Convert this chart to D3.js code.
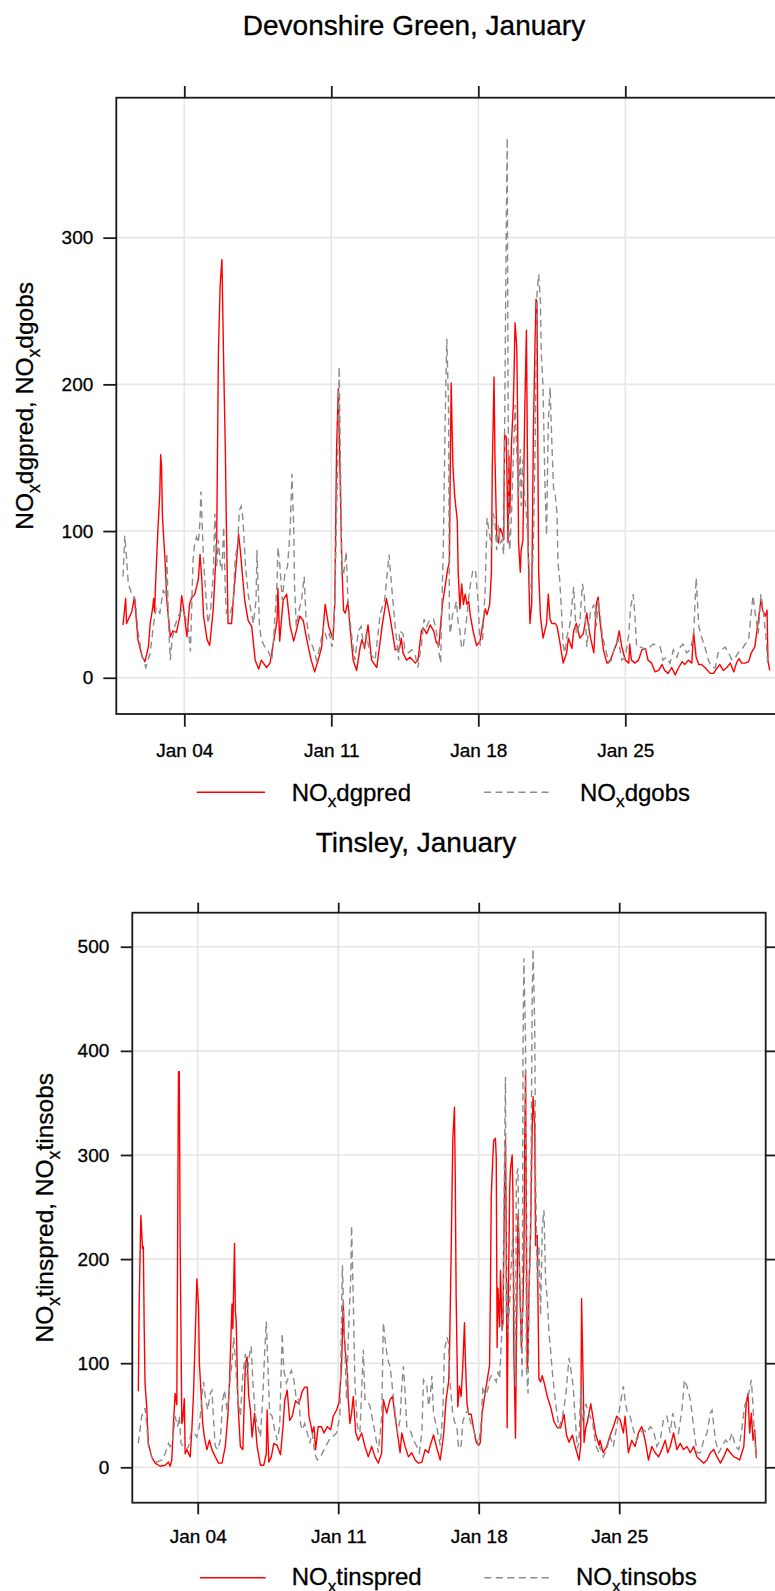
<!DOCTYPE html>
<html>
<head>
<meta charset="utf-8">
<script src="https://cdn.jsdelivr.net/npm/d3@7"></script>
<style>
  body { margin: 0; background: #fff; }
  svg { display: block; }
  text { font-family: "Liberation Sans", Arial, Helvetica, sans-serif; fill: #000; stroke: #000; stroke-width: 0.3px; }
</style>
</head>
<body>
<svg id="chart" width="775" height="1591"></svg>
<script>
// ---------------- DATA ----------------
// Time is given in hours since 1 January 00:00; values are NOx concentrations.
const monthStartUTC = Date.UTC(2003, 0, 1);
const tickDays = [4, 11, 18, 25];          // day of January for the x ticks
const tickLabels = ["Jan 04", "Jan 11", "Jan 18", "Jan 25"];
const dgYTicks = [0, 100, 200, 300];
const tinsYTicks = [0, 100, 200, 300, 400, 500];
const titles = ["Devonshire Green, January", "Tinsley, January"];
const dgNames = ["dgpred", "dgobs"];
const tinsNames = ["tinspred", "tinsobs"];

const dgPred = [[2,36],[5,54],[6,37],[12,45],[15,55],[16,48],[19,26],[24,14],[27,11],[31,21],[33,37],[36,48],[37,54],[38,45],[40,76],[42,103],[44,126],[45,152],[46,144],[47,110],[50,80],[52,53],[56,28],[59,32],[63,31],[67,42],[69,56],[71,48],[75,28],[78,50],[80,54],[84,57],[88,67],[90,84],[92,67],[94,42],[98,26],[101,22],[105,46],[109,92],[111,222],[113,268],[115,285],[117,214],[119,152],[120,107],[122,37],[126,37],[128,53],[132,82],[134,98],[136,87],[138,73],[141,53],[145,39],[149,35],[153,12],[157,6],[160,12],[166,7],[170,10],[178,39],[179,61],[181,25],[185,53],[189,57],[193,35],[197,25],[200,32],[204,42],[208,39],[212,26],[217,12],[221,4],[225,12],[229,21],[233,50],[237,35],[240,30],[242,26],[244,51],[246,155],[248,197],[250,139],[252,78],[254,46],[256,44],[259,52],[261,37],[265,12],[269,5],[273,21],[275,26],[278,20],[282,36],[286,12],[292,7],[298,35],[303,54],[307,42],[313,19],[318,20],[320,27],[322,17],[326,12],[330,14],[336,10],[339,12],[343,32],[345,34],[349,30],[353,36],[357,32],[360,24],[363,22],[365,37],[367,50],[370,62],[373,74],[375,79],[376,146],[377,201],[378,171],[379,144],[381,124],[384,107],[385,72],[387,47],[389,64],[391,50],[393,57],[395,50],[397,52],[399,42],[402,32],[406,22],[410,25],[414,40],[416,47],[418,43],[421,50],[423,72],[424,144],[426,205],[427,151],[429,97],[431,92],[433,102],[435,99],[437,94],[438,166],[440,164],[442,92],[443,151],[444,112],[446,161],[448,186],[449,211],[450,242],[452,225],[453,174],[454,92],[456,72],[457,87],[459,94],[461,179],[463,237],[464,161],[465,87],[467,37],[469,50],[471,169],[473,233],[474,258],[475,256],[477,72],[479,42],[480,37],[482,27],[484,32],[486,37],[488,57],[490,40],[492,37],[496,37],[498,35],[501,25],[505,10],[509,17],[511,27],[515,20],[517,32],[520,37],[524,27],[528,30],[532,44],[534,35],[536,28],[540,17],[543,51],[545,55],[547,39],[551,19],[555,10],[559,12],[562,17],[566,23],[569,32],[572,21],[576,12],[580,10],[581,23],[583,12],[587,10],[591,12],[595,19],[599,20],[602,12],[606,10],[610,4],[614,5],[618,9],[621,5],[625,3],[629,7],[633,2],[637,7],[641,11],[644,9],[648,12],[652,10],[654,31],[657,14],[660,9],[663,9],[667,7],[673,3],[677,3],[680,6],[684,9],[688,5],[692,7],[696,10],[700,4],[703,10],[706,13],[709,10],[713,10],[717,11],[720,17],[724,21],[728,39],[731,53],[733,46],[736,42],[738,46],[739,12],[741,5]];

const dgObs = [[2,69],[4,97],[6,82],[8,64],[12,57],[16,53],[19,32],[23,17],[28,7],[33,17],[37,37],[40,48],[44,44],[48,60],[51,55],[52,85],[54,37],[56,12],[58,26],[61,35],[65,42],[69,46],[73,42],[77,32],[79,18],[82,80],[84,92],[86,96],[88,92],[90,107],[91,127],[94,80],[96,62],[99,37],[102,46],[105,69],[107,112],[109,76],[111,94],[113,78],[115,73],[117,103],[119,57],[120,44],[124,42],[128,53],[130,80],[133,92],[135,114],[137,117],[139,109],[142,76],[145,57],[148,46],[151,37],[154,53],[155,87],[158,35],[160,26],[164,21],[168,18],[172,12],[174,26],[178,64],[179,89],[181,78],[184,53],[187,71],[190,76],[193,101],[195,139],[197,103],[198,62],[200,35],[203,46],[206,53],[209,69],[211,42],[215,26],[219,21],[223,12],[227,21],[231,35],[235,26],[238,30],[241,21],[244,51],[247,140],[249,212],[252,76],[254,70],[257,86],[259,53],[263,30],[267,12],[271,32],[274,35],[277,21],[280,30],[284,17],[290,12],[296,44],[301,53],[306,84],[309,62],[313,35],[317,12],[318,32],[322,30],[324,20],[328,17],[332,19],[336,15],[339,7],[343,22],[346,40],[349,35],[353,40],[357,40],[360,32],[363,17],[365,10],[366,42],[368,87],[370,171],[372,231],[374,186],[375,40],[376,30],[379,45],[381,47],[383,52],[385,37],[387,32],[389,20],[391,22],[395,42],[398,60],[402,74],[405,72],[408,50],[410,22],[413,27],[416,62],[418,109],[421,97],[423,89],[425,112],[427,107],[429,87],[431,104],[433,92],[435,94],[437,84],[438,161],[440,310],[441,368],[442,198],[443,99],[444,87],[446,112],[448,149],[450,186],[452,154],[454,124],[456,156],[457,117],[459,149],[461,122],[463,112],[465,87],[467,62],[469,57],[471,92],[473,161],[475,261],[477,275],[479,256],[480,221],[482,198],[484,136],[486,97],[488,174],[490,198],[492,161],[494,129],[496,124],[498,112],[499,79],[501,67],[503,47],[505,22],[507,17],[509,27],[513,37],[517,62],[518,50],[520,30],[524,37],[527,64],[529,57],[532,21],[536,44],[540,50],[543,35],[545,53],[547,44],[550,28],[553,21],[557,10],[560,12],[564,21],[568,26],[572,12],[576,14],[580,30],[582,48],[585,57],[587,42],[589,21],[593,21],[597,20],[600,19],[604,21],[608,23],[612,22],[616,21],[619,12],[623,14],[627,10],[631,19],[635,14],[639,21],[642,23],[646,17],[650,19],[654,28],[657,68],[660,35],[663,28],[667,21],[671,12],[675,7],[679,7],[682,17],[686,19],[690,21],[694,17],[698,12],[702,14],[705,17],[709,19],[713,23],[717,26],[719,39],[722,56],[724,46],[728,30],[731,57],[734,44],[737,26],[739,7]];

const tinsPred = [[1,73],[2,157],[4,242],[6,210],[7,212],[8,135],[9,81],[11,58],[13,23],[17,10],[21,4],[27,1],[33,2],[37,5],[39,1],[41,7],[43,42],[45,71],[47,60],[48,218],[49,380],[50,380],[51,215],[53,42],[54,45],[56,66],[57,13],[59,17],[63,10],[65,36],[67,71],[69,125],[71,181],[73,154],[74,100],[76,71],[78,42],[80,29],[83,17],[86,26],[89,17],[93,10],[97,4],[101,4],[105,20],[108,49],[110,81],[112,132],[113,157],[114,133],[116,215],[117,150],[118,141],[120,64],[123,20],[126,17],[129,100],[131,106],[133,68],[135,55],[137,29],[140,52],[143,20],[147,2],[151,2],[154,13],[155,55],[157,5],[160,10],[163,23],[167,21],[171,12],[174,39],[176,64],[179,74],[182,45],[185,49],[189,64],[193,61],[197,73],[200,77],[203,77],[205,49],[207,42],[209,33],[211,39],[213,17],[216,39],[220,39],[223,33],[227,39],[231,36],[234,49],[238,55],[241,62],[244,97],[246,158],[247,129],[249,107],[251,91],[252,65],[254,42],[256,52],[258,68],[261,33],[264,26],[268,33],[272,20],[276,10],[280,20],[284,10],[288,4],[292,14],[294,65],[298,52],[302,65],[305,68],[308,49],[312,26],[314,14],[316,33],[320,20],[324,10],[328,14],[332,7],[336,4],[340,5],[344,17],[348,14],[350,21],[354,31],[358,18],[362,7],[366,31],[369,65],[372,82],[373,105],[375,203],[377,314],[379,346],[380,274],[381,166],[383,58],[385,78],[387,68],[389,98],[391,139],[392,105],[394,61],[396,51],[399,51],[401,41],[405,24],[408,21],[410,24],[412,51],[415,68],[417,78],[419,88],[421,98],[422,169],[423,260],[425,300],[426,314],[428,316],[429,297],[430,115],[431,172],[433,135],[434,189],[436,132],[437,139],[439,274],[440,314],[441,223],[442,38],[443,129],[445,267],[446,287],[448,300],[449,260],[450,112],[452,28],[453,112],[455,243],[456,220],[457,179],[459,115],[461,159],[462,196],[463,307],[464,381],[465,240],[466,95],[467,105],[468,166],[470,226],[472,327],[473,356],[475,327],[476,213],[478,223],[480,85],[482,82],[484,88],[486,82],[490,68],[494,58],[498,44],[502,38],[506,38],[510,51],[513,31],[516,24],[520,31],[524,18],[528,7],[530,21],[531,162],[533,78],[534,24],[536,38],[538,44],[542,61],[544,51],[548,31],[552,21],[553,26],[557,14],[561,20],[565,30],[569,39],[573,49],[577,46],[581,33],[583,49],[587,14],[591,26],[595,20],[599,33],[603,39],[607,26],[611,7],[615,20],[619,14],[623,10],[627,17],[631,26],[634,14],[637,20],[641,33],[645,17],[649,23],[653,17],[657,20],[661,14],[665,20],[669,10],[673,7],[677,4],[681,7],[685,14],[689,17],[693,10],[697,4],[701,10],[705,18],[709,14],[713,10],[716,9],[720,7],[725,20],[728,62],[730,71],[732,33],[734,52],[736,26],[738,36],[740,9]];

const tinsObs = [[1,23],[3,36],[5,49],[9,57],[11,42],[13,20],[17,10],[23,5],[29,7],[33,13],[37,23],[39,20],[42,26],[45,49],[48,39],[50,49],[52,23],[55,20],[58,17],[61,20],[64,33],[67,34],[71,29],[74,39],[77,68],[79,82],[81,68],[84,55],[87,71],[89,74],[91,45],[93,20],[96,17],[99,26],[102,65],[104,74],[107,55],[109,65],[111,87],[113,100],[115,125],[117,103],[120,65],[123,49],[126,90],[129,109],[131,87],[134,109],[136,116],[138,81],[141,49],[144,39],[147,29],[150,71],[152,109],[154,140],[156,97],[158,52],[161,49],[164,36],[167,26],[170,39],[173,129],[175,93],[178,81],[181,87],[184,93],[187,84],[190,65],[193,65],[195,42],[197,36],[200,42],[203,33],[206,23],[209,33],[212,13],[215,7],[219,10],[223,17],[227,23],[231,29],[234,30],[238,33],[242,49],[245,194],[247,136],[250,65],[252,123],[255,184],[256,232],[258,161],[260,81],[263,39],[266,33],[270,113],[272,65],[274,65],[278,59],[281,46],[284,33],[288,14],[292,49],[294,139],[296,123],[299,104],[302,97],[306,68],[310,39],[311,33],[314,46],[316,78],[318,97],[320,71],[322,39],[326,36],[330,26],[334,20],[337,14],[340,33],[342,84],[346,78],[348,59],[350,68],[352,88],[354,51],[358,38],[362,21],[365,51],[367,112],[370,125],[372,119],[373,88],[377,51],[379,44],[382,38],[384,18],[387,21],[389,44],[392,51],[395,55],[398,44],[401,38],[405,28],[408,21],[411,44],[413,78],[416,68],[419,75],[421,85],[423,88],[425,88],[427,85],[429,82],[431,92],[433,85],[435,119],[437,152],[439,307],[440,375],[441,146],[442,179],[443,129],[445,159],[447,196],[449,226],[450,179],[452,78],[453,280],[455,287],[456,213],[458,152],[460,85],[461,402],[462,489],[464,409],[465,95],[467,71],[468,162],[470,220],[472,455],[473,498],[475,423],[476,280],[478,179],[480,213],[482,146],[484,230],[486,247],[488,179],[490,162],[492,129],[494,112],[496,92],[500,61],[504,38],[508,48],[512,68],[516,105],[518,95],[521,78],[523,51],[526,18],[528,24],[530,78],[532,44],[534,51],[536,61],[540,51],[544,44],[548,21],[552,14],[553,20],[557,10],[561,17],[565,30],[569,20],[573,39],[577,59],[581,78],[583,65],[585,55],[589,49],[593,36],[597,26],[601,33],[605,36],[609,33],[613,39],[617,36],[621,20],[625,26],[629,46],[633,49],[637,33],[640,52],[643,39],[647,33],[651,55],[654,84],[657,78],[661,65],[665,39],[669,14],[673,14],[677,26],[681,33],[685,52],[687,55],[691,26],[695,14],[699,20],[703,26],[707,23],[711,33],[715,20],[719,17],[723,39],[726,59],[731,71],[734,84],[736,59],[738,26],[740,10]];

// ---------------- LAYOUT ----------------
const svg = d3.select("#chart");
const HOUR = 3600 * 1000;
const toDate = h => new Date(monthStartUTC + h * HOUR);
const monthEnd = new Date(Date.UTC(2003, 1, 1));

const panels = [
  {
    title: titles[0], titleX: 414, titleY: 35,
    names: dgNames, pred: dgPred, obs: dgObs, yTicks: dgYTicks,
    box: { left: 116.3, right: 777, top: 97.7, bottom: 714 },
    xRange: [121.3, 772.3], yDomain: [-24.7, 395.4],
    yTickLen: 13, yTickPad: 10, xTickLen: 12.7, xTickPad: 16.5, topTickLen: 11.7, rightTickLen: 10,
    ylabX: 33, legendY: 792.3, legendTextY: 800.5,
    legend: { redX: [196.7, 265], redText: 291.7, grayX: [484, 552.7], grayText: 580 }
  },
  {
    title: titles[1], titleX: 416, titleY: 852,
    names: tinsNames, pred: tinsPred, obs: tinsObs, yTicks: tinsYTicks,
    box: { left: 132.3, right: 765.7, top: 912.7, bottom: 1502.7 },
    xRange: [137.5, 759.7], yDomain: [-34, 532.7],
    yTickLen: 11.6, yTickPad: 11.4, xTickLen: 11.6, xTickPad: 15.2, topTickLen: 10, rightTickLen: 9.5,
    ylabX: 53, legendY: 1577.7, legendTextY: 1585,
    legend: { redX: [200, 265.7], redText: 291.7, grayX: [484.3, 549.3], grayText: 576 }
  }
];

const RED = "#ff0000";
const GRAY = "#8c8c8c";
const DASH = "7,4.5";
const GRID = "#e6e6e6";
const AXIS = "#1a1a1a";
const LABEL_SIZE = 24.5;

// text "NO" + subscript x + suffix
function noxText(sel, suffix, fontSize) {
  const shift = fontSize * 0.28;
  sel.append("tspan").text("NO");
  sel.append("tspan").attr("font-size", fontSize * 0.72).attr("dy", shift).text("x");
  sel.append("tspan").attr("dy", -shift).text(suffix);
}

panels.forEach((p, i) => {
  const g = svg.append("g");
  const b = p.box;
  const x = d3.scaleUtc().domain([toDate(0), monthEnd]).range(p.xRange);
  const y = d3.scaleLinear().domain(p.yDomain).range([b.bottom, b.top]);
  const tickDates = tickDays.map(d => toDate((d - 1) * 24));

  // title
  g.append("text").attr("x", p.titleX).attr("y", p.titleY)
    .attr("text-anchor", "middle").attr("font-size", 28).text(p.title);

  // clip
  const clipId = "clip" + i;
  svg.append("defs").append("clipPath").attr("id", clipId)
    .append("rect").attr("x", b.left).attr("y", b.top)
    .attr("width", b.right - b.left).attr("height", b.bottom - b.top);

  const inner = g.append("g").attr("clip-path", `url(#${clipId})`);

  // grid
  inner.selectAll(".vgrid").data(tickDates).join("line")
    .attr("x1", d => x(d)).attr("x2", d => x(d))
    .attr("y1", b.top).attr("y2", b.bottom)
    .attr("stroke", GRID).attr("stroke-width", 1.6);
  inner.selectAll(".hgrid").data(p.yTicks).join("line")
    .attr("x1", b.left).attr("x2", b.right)
    .attr("y1", d => y(d)).attr("y2", d => y(d))
    .attr("stroke", GRID).attr("stroke-width", 1.6);

  // series
  const line = d3.line().x(d => x(toDate(d[0]))).y(d => y(d[1]));
  inner.append("path").datum(p.pred).attr("d", line)
    .attr("fill", "none").attr("stroke", RED).attr("stroke-width", 1.4)
    .attr("stroke-linejoin", "round");
  inner.append("path").datum(p.obs).attr("d", line)
    .attr("fill", "none").attr("stroke", GRAY).attr("stroke-width", 1.4)
    .attr("stroke-dasharray", DASH);

  // box
  g.append("rect").attr("x", b.left).attr("y", b.top)
    .attr("width", b.right - b.left).attr("height", b.bottom - b.top)
    .attr("fill", "none").attr("stroke", AXIS).attr("stroke-width", 1.8);

  // axes
  const styleAxis = sel => {
    sel.select(".domain").remove();
    sel.selectAll(".tick line").attr("stroke", AXIS).attr("stroke-width", 1.8);
    sel.selectAll(".tick text").attr("fill", "#000")
      .attr("font-family", '"Liberation Sans", Arial, sans-serif');
  };
  g.append("g").attr("transform", `translate(${b.left},0)`)
    .call(d3.axisLeft(y).tickValues(p.yTicks).tickSize(p.yTickLen).tickPadding(p.yTickPad).tickFormat(d3.format("d")))
    .call(styleAxis).attr("font-size", 19);
  g.append("g").attr("transform", `translate(${b.right},0)`)
    .call(d3.axisRight(y).tickValues(p.yTicks).tickSize(p.rightTickLen).tickFormat(""))
    .call(styleAxis);
  g.append("g").attr("transform", `translate(0,${b.bottom})`)
    .call(d3.axisBottom(x).tickValues(tickDates).tickSize(p.xTickLen).tickPadding(p.xTickPad)
      .tickFormat((d, k) => tickLabels[k]))
    .call(styleAxis).attr("font-size", 19);
  g.append("g").attr("transform", `translate(0,${b.top})`)
    .call(d3.axisTop(x).tickValues(tickDates).tickSize(p.topTickLen).tickFormat(""))
    .call(styleAxis);

  // y label
  const cy = (b.top + b.bottom) / 2;
  const yl = g.append("text").attr("transform", `translate(${p.ylabX},${cy}) rotate(-90)`)
    .attr("text-anchor", "middle").attr("font-size", LABEL_SIZE);
  noxText(yl, p.names[0] + ", ", LABEL_SIZE);
  noxText(yl, p.names[1], LABEL_SIZE);

  // legend
  const L = p.legend;
  g.append("line").attr("x1", L.redX[0]).attr("x2", L.redX[1])
    .attr("y1", p.legendY).attr("y2", p.legendY)
    .attr("stroke", RED).attr("stroke-width", 1.4);
  noxText(g.append("text").attr("x", L.redText).attr("y", p.legendTextY).attr("font-size", 24), p.names[0], 24);
  g.append("line").attr("x1", L.grayX[0]).attr("x2", L.grayX[1])
    .attr("y1", p.legendY).attr("y2", p.legendY)
    .attr("stroke", GRAY).attr("stroke-width", 1.4).attr("stroke-dasharray", DASH);
  noxText(g.append("text").attr("x", L.grayText).attr("y", p.legendTextY).attr("font-size", 24), p.names[1], 24);
});
</script>
</body>
</html>
